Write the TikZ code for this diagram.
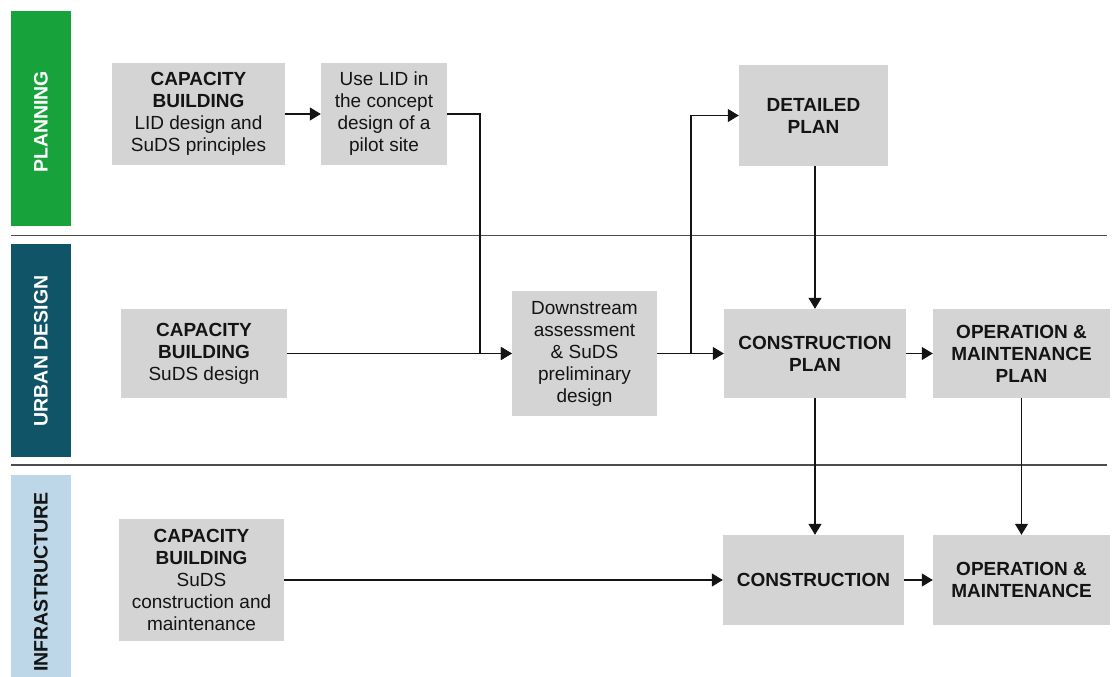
\documentclass[tikz,border=0pt]{standalone}
\usepackage{fontspec}
\setmainfont{Liberation Sans}
\usetikzlibrary{arrows.meta}

\definecolor{planGreen}{RGB}{24,162,60}
\definecolor{urbanTeal}{RGB}{16,84,104}
\definecolor{infraBlue}{RGB}{189,215,232}
\definecolor{boxGray}{RGB}{212,212,212}
\definecolor{ink}{RGB}{20,20,20}

\begin{document}
\begin{tikzpicture}[x=1pt,y=-1pt,
  box/.style={fill=boxGray, draw=none, text=ink, align=center, inner sep=0pt,
    font=\fontsize{19}{22}\selectfont},
  boldbox/.style={box, font=\fontsize{19}{22}\selectfont\bfseries},
  bandlabel/.style={rotate=90, inner sep=0pt, font=\fontsize{19.5}{22}\selectfont\bfseries},
  flow/.style={draw=ink, line width=1.1pt, -{Triangle[length=11pt,width=13pt]}},
  divider/.style={draw=black!70, line width=1.6pt}
]
\useasboundingbox (0,0) rectangle (1112,677);

% swim-lane bands
\fill[planGreen] (11,11) rectangle (71,226);
\fill[urbanTeal] (11,244) rectangle (71,457);
\fill[infraBlue] (11,475) rectangle (71,677);
\node[bandlabel, text=white] (lplan) at (41,122) {PLANNING};
\node[bandlabel, text=white] (lurban) at (41,351) {URBAN DESIGN};
\node[bandlabel, text=ink] (linfra) at (41,582) {INFRASTRUCTURE};

% lane dividers
\coordinate (d1a) at (11,235.5);  \coordinate (d1b) at (1107,235.5);
\coordinate (d2a) at (11,465);    \coordinate (d2b) at (1107,465);
\draw[divider] (d1a) -- (d1b);
\draw[divider] (d2a) -- (d2b);

% planning lane
\node[box, minimum width=173pt, minimum height=102pt] (cb1) at (198.5,114)
  {\textbf{CAPACITY}\\\textbf{BUILDING}\\LID design and\\SuDS principles};
\node[box, minimum width=126pt, minimum height=102pt] (lid) at (384,114)
  {Use LID in\\the concept\\design of a\\pilot site};
\node[boldbox, minimum width=149pt, minimum height=101pt] (dp) at (813.5,115.5)
  {DETAILED\\PLAN};

% urban design lane
\node[box, minimum width=166pt, minimum height=89pt] (cb2) at (204,353.5)
  {\textbf{CAPACITY}\\\textbf{BUILDING}\\SuDS design};
\node[box, minimum width=145pt, minimum height=125pt] (ds) at (584.5,353.5)
  {Downstream\\assessment\\\& SuDS\\preliminary\\design};
\node[boldbox, minimum width=182pt, minimum height=89pt] (cp) at (815,353.5)
  {CONSTRUCTION\\PLAN};
\node[boldbox, minimum width=177pt, minimum height=89pt] (omp) at (1021.5,353.5)
  {OPERATION \&\\MAINTENANCE\\PLAN};

% infrastructure lane
\node[box, minimum width=165pt, minimum height=122pt] (cb3) at (201.5,580)
  {\textbf{CAPACITY}\\\textbf{BUILDING}\\SuDS\\construction and\\maintenance};
\node[boldbox, minimum width=181pt, minimum height=90pt] (con) at (813.5,580)
  {CONSTRUCTION};
\node[boldbox, minimum width=177pt, minimum height=90pt] (om) at (1021.5,580)
  {OPERATION \&\\MAINTENANCE};

% connectors
\coordinate (j1) at (480,114);
\coordinate (j2) at (691,353.5);
\draw[flow] (cb1) -- (lid);
\draw[flow] (lid.east) -- (j1) |- (ds.west);
\draw[flow] (cb2) -- (ds);
\draw[flow] (ds) -- (cp);
\draw[flow] (j2) |- (dp.west);
\draw[flow] (dp.south -| cp.north) -- (cp.north);
\draw[flow] (cp) -- (omp);
\draw[flow] (cp.south) -- (cp.south |- con.north);
\draw[flow] (omp.south) -- (omp.south |- om.north);
\draw[flow] (cb3) -- (con);
\draw[flow] (con) -- (om);
\end{tikzpicture}
\end{document}
